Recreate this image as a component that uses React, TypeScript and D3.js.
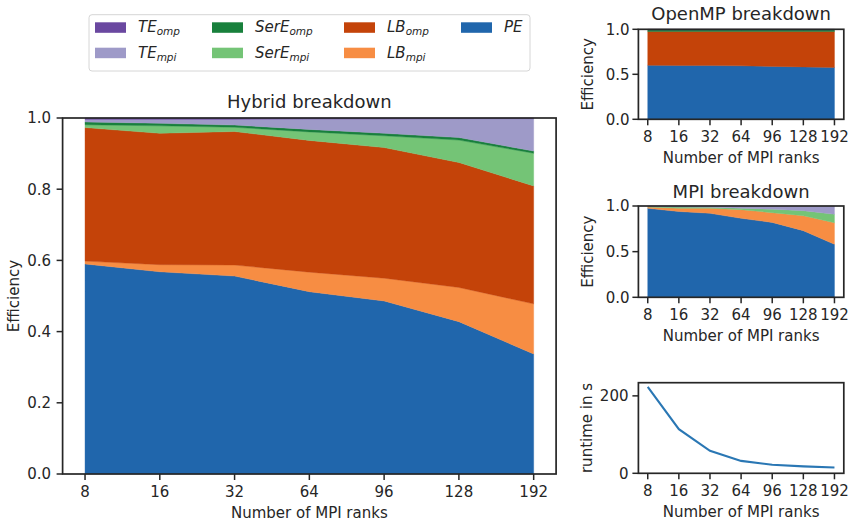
import React from "react";
import * as d3 from "d3";

// MPI rank counts (categorical x positions)
const ranks = ["8", "16", "32", "64", "96", "128", "192"];

// Hybrid breakdown components (stack order bottom → top)
const hybridPE = [0.59, 0.568, 0.556, 0.512, 0.486, 0.428, 0.337];
const hybridLBmpi = [0.008, 0.02, 0.031, 0.055, 0.064, 0.096, 0.141];
const hybridLBomp = [0.375, 0.369, 0.375, 0.37, 0.367, 0.351, 0.331];
const hybridSerEmpi = [0.008, 0.021, 0.012, 0.024, 0.033, 0.063, 0.092];
const hybridSerEomp = [0.008, 0.007, 0.006, 0.007, 0.007, 0.007, 0.006];
const hybridTEmpi = [0.007, 0.011, 0.016, 0.029, 0.04, 0.053, 0.091];
const hybridTEomp = [0.004, 0.004, 0.004, 0.003, 0.003, 0.002, 0.002];

// OpenMP breakdown
const ompPE = [0.6, 0.598, 0.597, 0.594, 0.588, 0.582, 0.576];
const ompLB = [0.375, 0.377, 0.378, 0.381, 0.387, 0.393, 0.399];
const ompSerE = [0.017, 0.017, 0.017, 0.017, 0.017, 0.017, 0.017];
const ompTE = [0.008, 0.008, 0.008, 0.008, 0.008, 0.008, 0.008];

// MPI breakdown
const mpiPE = [0.975, 0.94, 0.92, 0.865, 0.82, 0.73, 0.58];
const mpiLB = [0.013, 0.035, 0.055, 0.095, 0.107, 0.164, 0.237];
const mpiSerE = [0.006, 0.013, 0.011, 0.015, 0.038, 0.055, 0.092];
const mpiTE = [0.006, 0.012, 0.014, 0.025, 0.035, 0.051, 0.091];

// Runtime in seconds
const runtime = [223, 114, 58, 32, 22, 18, 15];

const effTicksMain = [0, 0.2, 0.4, 0.6, 0.8, 1.0];
const effTicksSmall = [0, 0.5, 1.0];
const runtimeTicks = [0, 200];

const COLORS: Record<string, string> = {
  PE: "#2066ac",
  LBmpi: "#f78d43",
  LBomp: "#c44309",
  SerEmpi: "#74c476",
  SerEomp: "#18803c",
  TEmpi: "#9e9ac8",
  TEomp: "#6a48a0",
};

const INK = "#262626";
const FONT = "DejaVu Sans, sans-serif";

type Series = { key: string; values: number[] };

function buildRows(series: Series[]) {
  return ranks.map((_, i) => {
    const row: Record<string, number> = {};
    series.forEach((s) => (row[s.key] = s.values[i]));
    return row;
  });
}

type Frame = { x0: number; x1: number; y0: number; y1: number };

function Axes({
  frame,
  yDomain,
  yTicks,
  yFmt,
  title,
  titleGap,
  ylabel,
  ylabelX,
  ytickEnd,
  children,
}: {
  frame: Frame;
  yDomain: [number, number];
  yTicks: number[];
  yFmt: (v: number) => string;
  title?: string;
  titleGap?: number;
  ylabel: string;
  ylabelX: number;
  ytickEnd: number;
  children: (x: d3.ScaleLinear<number, number>, y: d3.ScaleLinear<number, number>) => React.ReactNode;
}) {
  const x = d3.scaleLinear().domain([-0.3, ranks.length - 1 + 0.3]).range([frame.x0, frame.x1]);
  const y = d3.scaleLinear().domain(yDomain).range([frame.y1, frame.y0]);
  const tickLen = 6;
  return (
    <g>
      {children(x, y)}
      <rect
        x={frame.x0}
        y={frame.y0}
        width={frame.x1 - frame.x0}
        height={frame.y1 - frame.y0}
        fill="none"
        stroke={INK}
        strokeWidth={1.7}
      />
      {ranks.map((r, i) => (
        <g key={r}>
          <line x1={x(i)} x2={x(i)} y1={frame.y1} y2={frame.y1 + tickLen} stroke={INK} strokeWidth={1.5} />
          <text x={x(i)} y={frame.y1 + 23} textAnchor="middle" fontSize={15} fill={INK} fontFamily={FONT}>
            {r}
          </text>
        </g>
      ))}
      {yTicks.map((t) => (
        <g key={t}>
          <line x1={frame.x0 - tickLen} x2={frame.x0} y1={y(t)} y2={y(t)} stroke={INK} strokeWidth={1.5} />
          <text x={ytickEnd} y={y(t) + 5.4} textAnchor="end" fontSize={15} fill={INK} fontFamily={FONT}>
            {yFmt(t)}
          </text>
        </g>
      ))}
      <text
        x={(frame.x0 + frame.x1) / 2}
        y={frame.y1 + 43.5}
        textAnchor="middle"
        fontSize={15}
        fill={INK}
        fontFamily={FONT}
      >
        Number of MPI ranks
      </text>
      <text
        transform={`translate(${ylabelX},${(frame.y0 + frame.y1) / 2}) rotate(-90)`}
        textAnchor="middle"
        fontSize={15}
        fill={INK}
        fontFamily={FONT}
      >
        {ylabel}
      </text>
      {title && (
        <text
          x={(frame.x0 + frame.x1) / 2}
          y={frame.y0 - (titleGap ?? 9)}
          textAnchor="middle"
          fontSize={18}
          fill={INK}
          fontFamily={FONT}
        >
          {title}
        </text>
      )}
    </g>
  );
}

function Stack({
  series,
  x,
  y,
}: {
  series: Series[];
  x: d3.ScaleLinear<number, number>;
  y: d3.ScaleLinear<number, number>;
}) {
  const rows = buildRows(series);
  const stacked = d3.stack<Record<string, number>>().keys(series.map((s) => s.key))(rows);
  const area = d3
    .area<d3.SeriesPoint<Record<string, number>>>()
    .x((_, i) => x(i))
    .y0((d) => y(d[0]))
    .y1((d) => y(d[1]));
  return (
    <g>
      {stacked.map((layer) => (
        <path
          key={layer.key}
          d={area(layer) ?? ""}
          fill={COLORS[layer.key]}
          stroke={COLORS[layer.key]}
          strokeWidth={0.4}
        />
      ))}
    </g>
  );
}

const legendItems = [
  { key: "TEomp", base: "TE", sub: "omp" },
  { key: "TEmpi", base: "TE", sub: "mpi" },
  { key: "SerEomp", base: "SerE", sub: "omp" },
  { key: "SerEmpi", base: "SerE", sub: "mpi" },
  { key: "LBomp", base: "LB", sub: "omp" },
  { key: "LBmpi", base: "LB", sub: "mpi" },
  { key: "PE", base: "PE", sub: "" },
];

function Legend() {
  const colX = [95, 212, 344, 461];
  const rowY = [22.3, 47.7];
  return (
    <g>
      <rect x={89} y={14.7} width={441} height={56.3} rx={3} fill="#fff" stroke="#d6d6d6" strokeWidth={1} />
      {legendItems.map((it, idx) => {
        const c = Math.floor(idx / 2);
        const r = idx % 2;
        const px = colX[c];
        const py = rowY[r];
        return (
          <g key={it.key}>
            <rect x={px} y={py} width={31} height={10.5} fill={COLORS[it.key]} />
            <text x={px + 43} y={py + 9.8} fontSize={15} fill={INK} fontFamily={FONT} fontStyle="italic">
              <tspan>{it.base}</tspan>
              {it.sub && (
                <tspan fontSize={10.5} dy={3}>
                  {it.sub}
                </tspan>
              )}
            </text>
          </g>
        );
      })}
    </g>
  );
}

export default function App() {
  const hybridSeries: Series[] = [
    { key: "PE", values: hybridPE },
    { key: "LBmpi", values: hybridLBmpi },
    { key: "LBomp", values: hybridLBomp },
    { key: "SerEmpi", values: hybridSerEmpi },
    { key: "SerEomp", values: hybridSerEomp },
    { key: "TEmpi", values: hybridTEmpi },
    { key: "TEomp", values: hybridTEomp },
  ];
  const ompSeries: Series[] = [
    { key: "PE", values: ompPE },
    { key: "LBomp", values: ompLB },
    { key: "SerEomp", values: ompSerE },
    { key: "TEomp", values: ompTE },
  ];
  const mpiSeries: Series[] = [
    { key: "PE", values: mpiPE },
    { key: "LBmpi", values: mpiLB },
    { key: "SerEmpi", values: mpiSerE },
    { key: "TEmpi", values: mpiTE },
  ];
  const fmt1 = d3.format(".1f");
  const fmt0 = d3.format("d");

  return (
    <svg
      width={850}
      height={522}
      viewBox="0 0 850 522"
      style={{ position: "absolute", left: 0, top: 0, background: "#fff" }}
    >
      <rect width={850} height={522} fill="#fff" />
      <Axes
        frame={{ x0: 62.6, x1: 556.1, y0: 118, y1: 474 }}
        yDomain={[0, 1]}
        yTicks={effTicksMain}
        yFmt={fmt1}
        title="Hybrid breakdown"
        titleGap={10.5}
        ylabel="Efficiency"
        ylabelX={18.5}
        ytickEnd={51}
      >
        {(x, y) => <Stack series={hybridSeries} x={x} y={y} />}
      </Axes>
      <Axes
        frame={{ x0: 638.4, x1: 843.8, y0: 29.3, y1: 119.3 }}
        yDomain={[0, 1]}
        yTicks={effTicksSmall}
        yFmt={fmt1}
        title="OpenMP breakdown"
        titleGap={9}
        ylabel="Efficiency"
        ylabelX={592.5}
        ytickEnd={629.5}
      >
        {(x, y) => <Stack series={ompSeries} x={x} y={y} />}
      </Axes>
      <Axes
        frame={{ x0: 638.4, x1: 843.8, y0: 206, y1: 297.3 }}
        yDomain={[0, 1]}
        yTicks={effTicksSmall}
        yFmt={fmt1}
        title="MPI breakdown"
        titleGap={8.5}
        ylabel="Efficiency"
        ylabelX={592.5}
        ytickEnd={629.5}
      >
        {(x, y) => <Stack series={mpiSeries} x={x} y={y} />}
      </Axes>
      <Axes
        frame={{ x0: 638.4, x1: 843.8, y0: 382.7, y1: 473.3 }}
        yDomain={[0, 234]}
        yTicks={runtimeTicks}
        yFmt={fmt0}
        ylabel="runtime in s"
        ylabelX={591.5}
        ytickEnd={628.5}
      >
        {(x, y) => (
          <path
            d={
              d3
                .line<number>()
                .x((_, i) => x(i))
                .y((d) => y(d))(runtime) ?? ""
            }
            fill="none"
            stroke="#2a77b4"
            strokeWidth={2.1}
          />
        )}
      </Axes>
      <Legend />
    </svg>
  );
}
